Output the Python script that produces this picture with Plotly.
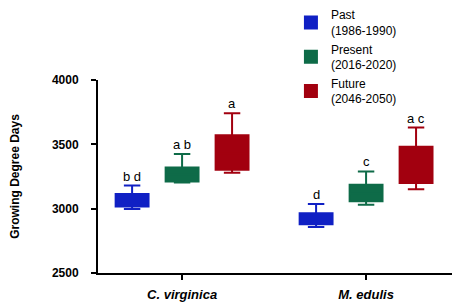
import plotly.graph_objects as go

categories = ["C. virginica", "M. edulis"]
series_names = ["Past<br>(1986-1990)", "Present<br>(2016-2020)", "Future<br>(2046-2050)"]
colors = ["#1020C4", "#0E6B48", "#A2000F"]

# per series: values for [C. virginica, M. edulis]
lower = [[2998, 2858], [3204, 3031], [3279, 3150]]
q1 = [[3016, 2878], [3212, 3057], [3302, 3199]]
median = [[3065, 2920], [3265, 3120], [3430, 3340]]
q3 = [[3114, 2964], [3320, 3186], [3571, 3481]]
upper = [[3180, 3036], [3424, 3289], [3742, 3630]]
letters = [["b d", "d"], ["a b", "c"], ["a", "a c"]]

y_ticks = [2500, 3000, 3500, 4000]

BOXGAP = 0.185
slot = (1 - BOXGAP) / 3

fig = go.Figure()
for i in range(3):
    fig.add_trace(go.Box(
        name=series_names[i],
        x=categories,
        q1=q1[i], median=median[i], q3=q3[i],
        lowerfence=lower[i], upperfence=upper[i],
        fillcolor=colors[i],
        line=dict(color=colors[i], width=2),
        whiskerwidth=0.5,
        hoverinfo="skip",
    ))

for i in range(3):
    for j in range(2):
        fig.add_annotation(
            x=j + (i - 1) * slot, y=upper[i][j], xref="x", yref="y",
            text=letters[i][j], showarrow=False, yanchor="bottom",
            yshift=0,
            font=dict(family="Liberation Sans, Arial", size=13, color="black"),
        )

fig.update_layout(
    width=454, height=304,
    margin=dict(l=98, r=2, t=79, b=31),
    paper_bgcolor="white", plot_bgcolor="white",
    boxmode="group", boxgap=BOXGAP, boxgroupgap=0.342,
    font=dict(family="Liberation Sans, Arial", color="black"),
    legend=dict(
        x=0.545, y=1.405, xanchor="left", yanchor="top",
        font=dict(size=12, family="Liberation Sans, Arial"),
        bgcolor="rgba(0,0,0,0)", borderwidth=0,
    ),
    showlegend=True,
)
fig.update_xaxes(
    type="category", range=[-0.457, 1.467], automargin=False,
    showline=True, linecolor="black", linewidth=2,
    ticks="outside", ticklen=5, tickwidth=2, tickcolor="black",
    ticklabelstandoff=3,
    tickfont=dict(size=13, weight="bold", style="italic", family="Liberation Sans, Arial"),
    showgrid=False, zeroline=False,
)
fig.update_yaxes(
    range=[2500, 4000], tickvals=y_ticks, automargin=False,
    showline=True, linecolor="black", linewidth=2,
    ticks="outside", ticklen=5, tickwidth=2, tickcolor="black",
    ticklabelstandoff=10,
    tickfont=dict(size=12, weight="bold", family="Liberation Sans, Arial"),
    showgrid=False, zeroline=False,
    title=dict(text="Growing Degree Days", font=dict(size=12, weight="bold"), standoff=30),
)

fig.write_html(
    "out.html",
    config={"displayModeBar": False},
    post_script="document.body.style.margin='0';document.body.style.padding='0';",
)
